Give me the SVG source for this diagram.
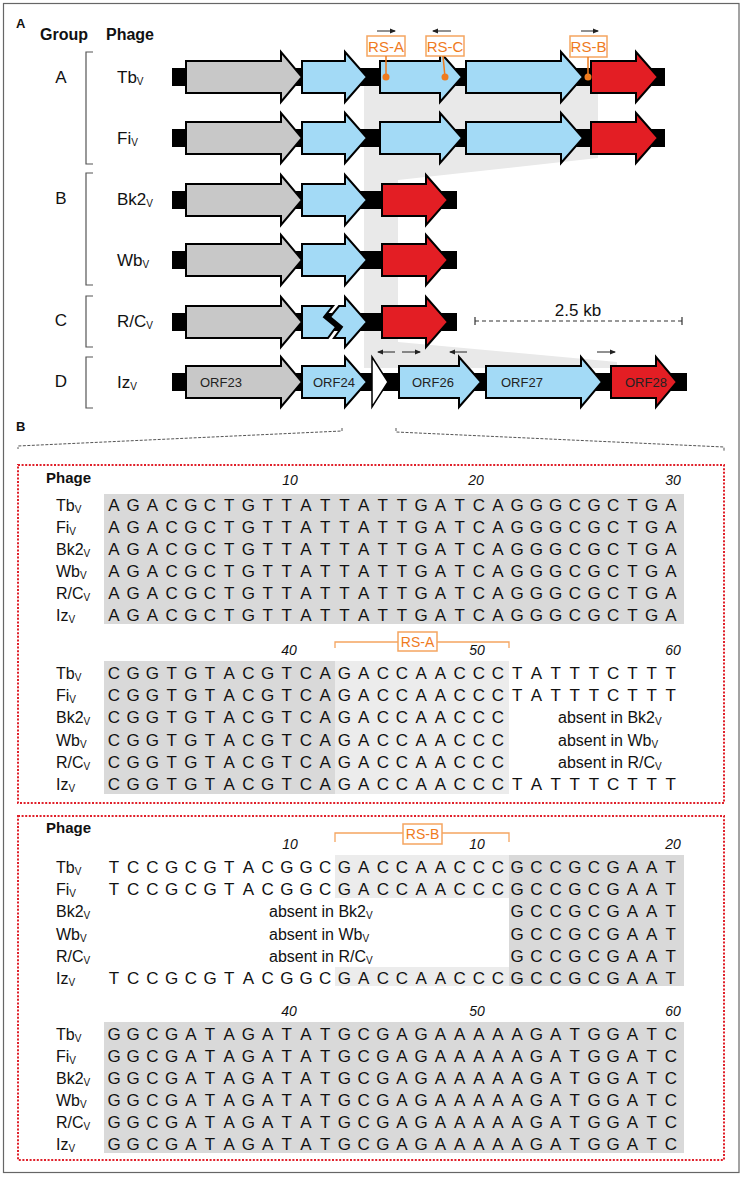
<svg xmlns="http://www.w3.org/2000/svg" width="743" height="1177" viewBox="0 0 743 1177">
<style>
text{font-family:"Liberation Sans",Arial,Helvetica,sans-serif;fill:#111}
.hd{font-weight:bold;font-size:16px}
.pl{font-weight:bold;font-size:13px}
.grp{font-size:17px;text-anchor:middle}
.ph{font-size:17px}
.phb{font-size:16px}
.sub{font-size:10px}
.orf{font-size:13px;fill:#222}
.seq{font-size:17px;text-anchor:middle}
.num{font-size:14px;font-style:italic;text-anchor:middle}
.abs{font-size:16px}
.rs{font-size:15px;fill:#ef7b1e;text-anchor:middle}
.rsb{font-size:14px;fill:#ef7b1e;text-anchor:middle}
.box{fill:#fff;stroke:#f5a560;stroke-width:1.5}
.br{fill:none;stroke:#555;stroke-width:1.2}
.bb{fill:#000}
.g{fill:#c8c8c8;stroke:#000;stroke-width:2}
.b{fill:#a3daf6;stroke:#000;stroke-width:2}
.r{fill:#e31e24;stroke:#000;stroke-width:2}
.w{fill:#fff;stroke:#000;stroke-width:1.5}
.sa{stroke:#222;stroke-width:1;marker-end:url(#ah)}
.dk{fill:#d9d9d9}
.lt{fill:#ececec}
.red{fill:none;stroke:#e0202a;stroke-width:2;stroke-dasharray:2 1.6}
.ol{fill:none;stroke:#f5a560;stroke-width:1.3}
</style>
<defs>
<marker id="ah" markerUnits="userSpaceOnUse" markerWidth="6" markerHeight="6" refX="5" refY="3" orient="auto"><path d="M0,0.5 L6,3 L0,5.5 Z" fill="#222"/></marker>
</defs>
<rect x="3.5" y="3.5" width="735.5" height="1169" fill="#fff" stroke="#666" stroke-width="1.2"/>

<!-- Panel A headers -->
<text class="pl" x="16" y="28">A</text>
<text class="hd" x="40" y="40">Group</text>
<text class="hd" x="106" y="40">Phage</text>

<g id="groups">
<path class="br" d="M93,52 H86 V164 H93"/>
<path class="br" d="M93,173 H86 V285 H93"/>
<path class="br" d="M93,296 H86 V347 H93"/>
<path class="br" d="M93,357 H86 V408 H93"/>
<text class="grp" x="61" y="83">A</text>
<text class="grp" x="61" y="204">B</text>
<text class="grp" x="61" y="326">C</text>
<text class="grp" x="61" y="387">D</text>
</g>

<!-- homology shading -->
<polygon id="shade" points="364,86 598,86 598,158 398,180 398,342 617,362 617,368 364,368" fill="#e9e9e9"/>

<g id="row-Tb">
<text class="ph" x="117" y="83">Tb<tspan class="sub" dy="2">V</tspan></text>
<rect class="bb" x="172" y="68" width="493" height="18"/>
<path class="g" d="M186,61 H281 V52 L302,77 L281,102 V93 H186 Z"/>
<path class="b" d="M302,61 H345 V52 L367,77 L345,102 V93 H302 Z"/>
<path class="b" d="M380,61 H440 V52 L462,77 L440,102 V93 H380 Z"/>
<path class="b" d="M466,61 H561 V52 L583,77 L561,102 V93 H466 Z"/>
<path class="r" d="M591,61 H636 V52 L658,77 L636,102 V93 H591 Z"/>
</g>
<g id="row-Fi">
<text class="ph" x="117" y="144">Fi<tspan class="sub" dy="2">V</tspan></text>
<rect class="bb" x="172" y="129" width="493" height="18"/>
<path class="g" d="M186,122 H281 V113 L302,138 L281,163 V154 H186 Z"/>
<path class="b" d="M302,122 H345 V113 L367,138 L345,163 V154 H302 Z"/>
<path class="b" d="M380,122 H440 V113 L462,138 L440,163 V154 H380 Z"/>
<path class="b" d="M466,122 H561 V113 L583,138 L561,163 V154 H466 Z"/>
<path class="r" d="M591,122 H636 V113 L658,138 L636,163 V154 H591 Z"/>
</g>
<g id="row-Bk2">
<text class="ph" x="117" y="205">Bk2<tspan class="sub" dy="2">V</tspan></text>
<rect class="bb" x="172" y="191" width="285" height="18"/>
<path class="g" d="M186,184 H281 V175 L302,200 L281,225 V216 H186 Z"/>
<path class="b" d="M302,184 H345 V175 L367,200 L345,225 V216 H302 Z"/>
<path class="r" d="M382,184 H426 V175 L448,200 L426,225 V216 H382 Z"/>
</g>
<g id="row-Wb">
<text class="ph" x="117" y="266">Wb<tspan class="sub" dy="2">V</tspan></text>
<rect class="bb" x="172" y="251" width="285" height="18"/>
<path class="g" d="M186,244 H281 V235 L302,260 L281,285 V276 H186 Z"/>
<path class="b" d="M302,244 H345 V235 L367,260 L345,285 V276 H302 Z"/>
<path class="r" d="M382,244 H426 V235 L448,260 L426,285 V276 H382 Z"/>
</g>
<g id="row-RC">
<text class="ph" x="117" y="327">R/C<tspan class="sub" dy="2">V</tspan></text>
<rect class="bb" x="172" y="313" width="285" height="18"/>
<path class="g" d="M186,306 H281 V297 L302,322 L281,347 V338 H186 Z"/>
<path class="b" d="M302,306 H333 L324,317 L336,327 L328,338 H302 Z"/>
<path class="b" d="M339,306 H345 V297 L367,322 L345,347 V338 H334 L342,327 L330,317 Z"/>
<path class="r" d="M382,306 H426 V297 L448,322 L426,347 V338 H382 Z"/>
</g>
<g id="row-Iz">
<text class="ph" x="117" y="388">Iz<tspan class="sub" dy="2">V</tspan></text>
<rect class="bb" x="172" y="373" width="515" height="18"/>
<path class="g" d="M186,366 H281 V357 L302,382 L281,407 V398 H186 Z"/>
<text class="orf" x="200" y="387">ORF23</text>
<path class="b" d="M302,366 H345 V357 L367,382 L345,407 V398 H302 Z"/>
<text class="orf" x="313" y="387">ORF24</text>
<path class="w" d="M372,357 L388,382 L372,407 Z"/>
<path class="b" d="M399,366 H459 V357 L481,382 L459,407 V398 H399 Z"/>
<text class="orf" x="412" y="387">ORF26</text>
<path class="b" d="M486,366 H581 V357 L602,382 L581,407 V398 H486 Z"/>
<text class="orf" x="501" y="387">ORF27</text>
<path class="r" d="M611,366 H656 V357 L677,382 L656,407 V398 H611 Z"/>
<text class="orf" x="625" y="387">ORF28</text>
</g>

<g id="scale">
<text x="578" y="316" style="font-size:17px;text-anchor:middle">2.5 kb</text>
<path d="M475,321 H682" stroke="#333" stroke-width="1.2" stroke-dasharray="4 3" fill="none"/>
<path d="M475,317 V325 M682,317 V325" stroke="#333" stroke-width="1.2"/>
</g>

<g id="rs-labels">
<rect class="box" x="367" y="36" width="38" height="20"/>
<text class="rs" x="386" y="52">RS-A</text>
<rect class="box" x="426" y="36" width="38" height="20"/>
<text class="rs" x="445" y="52">RS-C</text>
<rect class="box" x="570" y="36" width="37" height="21"/>
<text class="rs" x="588.5" y="52">RS-B</text>
</g>

<g id="connectors">
<path d="M386,56 V77 M443,56 L445,77 M588,57 V77" stroke="#ef7b1e" stroke-width="1.5" fill="none"/>
<circle cx="386" cy="77" r="3.5" fill="#ef7b1e"/>
<circle cx="445" cy="77" r="3.5" fill="#ef7b1e"/>
<circle cx="588" cy="77" r="3.5" fill="#ef7b1e"/>
<line class="sa" x1="377" y1="31" x2="395" y2="31"/>
<line class="sa" x1="451" y1="31" x2="433" y2="31"/>
<line class="sa" x1="581" y1="31" x2="598" y2="31"/>
<line class="sa" x1="395" y1="352" x2="378" y2="352"/>
<line class="sa" x1="402" y1="352" x2="420" y2="352"/>
<line class="sa" x1="467" y1="352" x2="450" y2="352"/>
<line class="sa" x1="597" y1="352" x2="615" y2="352"/>
<path d="M342,428 V431 L18,446 V449" fill="none" stroke="#555" stroke-width="1" stroke-dasharray="3 1.5"/>
<path d="M396,428 V432 L724,447 V451" fill="none" stroke="#555" stroke-width="1" stroke-dasharray="3 1.5"/>
</g>

<!-- Panel B -->
<text class="pl" x="16" y="431">B</text>

<g id="block1">
<rect class="red" x="18" y="465" width="706" height="338"/>
<text class="hd" style="font-size:15px" x="46" y="483">Phage</text>
<text class="num" x="290" y="485">10</text>
<text class="num" x="476" y="485">20</text>
<text class="num" x="673" y="485">30</text>
<rect class="dk" x="104" y="494" width="580" height="130"/>
<text class="phb" x="56" y="511">Tb<tspan class="sub" dy="2">V</tspan></text>
<text class="phb" x="56" y="533">Fi<tspan class="sub" dy="2">V</tspan></text>
<text class="phb" x="56" y="555">Bk2<tspan class="sub" dy="2">V</tspan></text>
<text class="phb" x="56" y="577">Wb<tspan class="sub" dy="2">V</tspan></text>
<text class="phb" x="56" y="599">R/C<tspan class="sub" dy="2">V</tspan></text>
<text class="phb" x="56" y="621">Iz<tspan class="sub" dy="2">V</tspan></text>
<text class="seq" y="511" x="114 133.2 152.4 171.6 190.8 210 229.2 248.4 267.6 286.8 306 325.2 344.4 363.6 382.8 402 421.2 440.4 459.6 478.8 498 517.2 536.4 555.6 574.8 594 613.2 632.4 651.6 670.8">AGACGCTGTTATTATTGATCAGGGCGCTGA</text>
<text class="seq" y="533" x="114 133.2 152.4 171.6 190.8 210 229.2 248.4 267.6 286.8 306 325.2 344.4 363.6 382.8 402 421.2 440.4 459.6 478.8 498 517.2 536.4 555.6 574.8 594 613.2 632.4 651.6 670.8">AGACGCTGTTATTATTGATCAGGGCGCTGA</text>
<text class="seq" y="555" x="114 133.2 152.4 171.6 190.8 210 229.2 248.4 267.6 286.8 306 325.2 344.4 363.6 382.8 402 421.2 440.4 459.6 478.8 498 517.2 536.4 555.6 574.8 594 613.2 632.4 651.6 670.8">AGACGCTGTTATTATTGATCAGGGCGCTGA</text>
<text class="seq" y="577" x="114 133.2 152.4 171.6 190.8 210 229.2 248.4 267.6 286.8 306 325.2 344.4 363.6 382.8 402 421.2 440.4 459.6 478.8 498 517.2 536.4 555.6 574.8 594 613.2 632.4 651.6 670.8">AGACGCTGTTATTATTGATCAGGGCGCTGA</text>
<text class="seq" y="599" x="114 133.2 152.4 171.6 190.8 210 229.2 248.4 267.6 286.8 306 325.2 344.4 363.6 382.8 402 421.2 440.4 459.6 478.8 498 517.2 536.4 555.6 574.8 594 613.2 632.4 651.6 670.8">AGACGCTGTTATTATTGATCAGGGCGCTGA</text>
<text class="seq" y="621" x="114 133.2 152.4 171.6 190.8 210 229.2 248.4 267.6 286.8 306 325.2 344.4 363.6 382.8 402 421.2 440.4 459.6 478.8 498 517.2 536.4 555.6 574.8 594 613.2 632.4 651.6 670.8">AGACGCTGTTATTATTGATCAGGGCGCTGA</text>
</g>

<g id="block2">
<path class="ol" d="M335,648 V642 H509 V648"/>
<rect class="box" x="398" y="632" width="39" height="19"/>
<text class="rsb" x="417.5" y="647">RS-A</text>
<text class="num" x="289" y="655">40</text>
<text class="num" x="477" y="655">50</text>
<text class="num" x="673" y="655">60</text>
<rect class="dk" x="104" y="661" width="231" height="133"/>
<rect class="lt" x="335" y="661" width="174" height="133"/>
<text class="phb" x="56" y="679">Tb<tspan class="sub" dy="2">V</tspan></text>
<text class="phb" x="56" y="701">Fi<tspan class="sub" dy="2">V</tspan></text>
<text class="phb" x="56" y="723">Bk2<tspan class="sub" dy="2">V</tspan></text>
<text class="phb" x="56" y="746">Wb<tspan class="sub" dy="2">V</tspan></text>
<text class="phb" x="56" y="768">R/C<tspan class="sub" dy="2">V</tspan></text>
<text class="phb" x="56" y="790">Iz<tspan class="sub" dy="2">V</tspan></text>
<text class="seq" y="679" x="114 133.2 152.4 171.6 190.8 210 229.2 248.4 267.6 286.8 306 325.2 344.4 363.6 382.8 402 421.2 440.4 459.6 478.8 498 517.2 536.4 555.6 574.8 594 613.2 632.4 651.6 670.8">CGGTGTACGTCAGACCAACCCTATTTCTTT</text>
<text class="seq" y="701" x="114 133.2 152.4 171.6 190.8 210 229.2 248.4 267.6 286.8 306 325.2 344.4 363.6 382.8 402 421.2 440.4 459.6 478.8 498 517.2 536.4 555.6 574.8 594 613.2 632.4 651.6 670.8">CGGTGTACGTCAGACCAACCCTATTTCTTT</text>
<text class="seq" y="723" x="114 133.2 152.4 171.6 190.8 210 229.2 248.4 267.6 286.8 306 325.2 344.4 363.6 382.8 402 421.2 440.4 459.6 478.8 498">CGGTGTACGTCAGACCAACCC</text>
<text class="seq" y="746" x="114 133.2 152.4 171.6 190.8 210 229.2 248.4 267.6 286.8 306 325.2 344.4 363.6 382.8 402 421.2 440.4 459.6 478.8 498">CGGTGTACGTCAGACCAACCC</text>
<text class="seq" y="768" x="114 133.2 152.4 171.6 190.8 210 229.2 248.4 267.6 286.8 306 325.2 344.4 363.6 382.8 402 421.2 440.4 459.6 478.8 498">CGGTGTACGTCAGACCAACCC</text>
<text class="seq" y="790" x="114 133.2 152.4 171.6 190.8 210 229.2 248.4 267.6 286.8 306 325.2 344.4 363.6 382.8 402 421.2 440.4 459.6 478.8 498 517.2 536.4 555.6 574.8 594 613.2 632.4 651.6 670.8">CGGTGTACGTCAGACCAACCCTATTTCTTT</text>
<text class="abs" x="558" y="723">absent in Bk2<tspan class="sub" dy="2">V</tspan></text>
<text class="abs" x="558" y="746">absent in Wb<tspan class="sub" dy="2">V</tspan></text>
<text class="abs" x="558" y="768">absent in R/C<tspan class="sub" dy="2">V</tspan></text>
</g>

<g id="block3">
<rect class="red" x="18" y="816" width="706" height="344"/>
<text class="hd" style="font-size:15px" x="46" y="833">Phage</text>
<path class="ol" d="M335,842 V833 H509 V842"/>
<rect class="box" x="403" y="824" width="39" height="20"/>
<text class="rsb" x="422.5" y="839">RS-B</text>
<text class="num" x="290" y="849">10</text>
<text class="num" x="477" y="849">10</text>
<text class="num" x="673" y="849">20</text>
<rect class="lt" x="335" y="855" width="174" height="43"/>
<rect class="lt" x="335" y="967" width="174" height="19"/>
<rect class="dk" x="509" y="855" width="175" height="131"/>
<text class="phb" x="56" y="873">Tb<tspan class="sub" dy="2">V</tspan></text>
<text class="phb" x="56" y="895">Fi<tspan class="sub" dy="2">V</tspan></text>
<text class="phb" x="56" y="917">Bk2<tspan class="sub" dy="2">V</tspan></text>
<text class="phb" x="56" y="940">Wb<tspan class="sub" dy="2">V</tspan></text>
<text class="phb" x="56" y="962">R/C<tspan class="sub" dy="2">V</tspan></text>
<text class="phb" x="56" y="984">Iz<tspan class="sub" dy="2">V</tspan></text>
<text class="seq" y="873" x="114 133.2 152.4 171.6 190.8 210 229.2 248.4 267.6 286.8 306 325.2 344.4 363.6 382.8 402 421.2 440.4 459.6 478.8 498 517.2 536.4 555.6 574.8 594 613.2 632.4 651.6 670.8">TCCGCGTACGGCGACCAACCCGCCGCGAAT</text>
<text class="seq" y="895" x="114 133.2 152.4 171.6 190.8 210 229.2 248.4 267.6 286.8 306 325.2 344.4 363.6 382.8 402 421.2 440.4 459.6 478.8 498 517.2 536.4 555.6 574.8 594 613.2 632.4 651.6 670.8">TCCGCGTACGGCGACCAACCCGCCGCGAAT</text>
<text class="seq" y="917" x="517.2 536.4 555.6 574.8 594 613.2 632.4 651.6 670.8">GCCGCGAAT</text>
<text class="seq" y="940" x="517.2 536.4 555.6 574.8 594 613.2 632.4 651.6 670.8">GCCGCGAAT</text>
<text class="seq" y="962" x="517.2 536.4 555.6 574.8 594 613.2 632.4 651.6 670.8">GCCGCGAAT</text>
<text class="seq" y="984" x="114 133.2 152.4 171.6 190.8 210 229.2 248.4 267.6 286.8 306 325.2 344.4 363.6 382.8 402 421.2 440.4 459.6 478.8 498 517.2 536.4 555.6 574.8 594 613.2 632.4 651.6 670.8">TCCGCGTACGGCGACCAACCCGCCGCGAAT</text>
<text class="abs" x="269" y="917">absent in Bk2<tspan class="sub" dy="2">V</tspan></text>
<text class="abs" x="269" y="940">absent in Wb<tspan class="sub" dy="2">V</tspan></text>
<text class="abs" x="269" y="962">absent in R/C<tspan class="sub" dy="2">V</tspan></text>
</g>

<g id="block4">
<text class="num" x="289" y="1016">40</text>
<text class="num" x="477" y="1016">50</text>
<text class="num" x="673" y="1016">60</text>
<rect class="dk" x="104" y="1022" width="580" height="131"/>
<text class="phb" x="56" y="1040">Tb<tspan class="sub" dy="2">V</tspan></text>
<text class="phb" x="56" y="1062">Fi<tspan class="sub" dy="2">V</tspan></text>
<text class="phb" x="56" y="1084">Bk2<tspan class="sub" dy="2">V</tspan></text>
<text class="phb" x="56" y="1106">Wb<tspan class="sub" dy="2">V</tspan></text>
<text class="phb" x="56" y="1128">R/C<tspan class="sub" dy="2">V</tspan></text>
<text class="phb" x="56" y="1150">Iz<tspan class="sub" dy="2">V</tspan></text>
<text class="seq" y="1040" x="114 133.2 152.4 171.6 190.8 210 229.2 248.4 267.6 286.8 306 325.2 344.4 363.6 382.8 402 421.2 440.4 459.6 478.8 498 517.2 536.4 555.6 574.8 594 613.2 632.4 651.6 670.8">GGCGATAGATATGCGAGAAAAAGATGGATC</text>
<text class="seq" y="1062" x="114 133.2 152.4 171.6 190.8 210 229.2 248.4 267.6 286.8 306 325.2 344.4 363.6 382.8 402 421.2 440.4 459.6 478.8 498 517.2 536.4 555.6 574.8 594 613.2 632.4 651.6 670.8">GGCGATAGATATGCGAGAAAAAGATGGATC</text>
<text class="seq" y="1084" x="114 133.2 152.4 171.6 190.8 210 229.2 248.4 267.6 286.8 306 325.2 344.4 363.6 382.8 402 421.2 440.4 459.6 478.8 498 517.2 536.4 555.6 574.8 594 613.2 632.4 651.6 670.8">GGCGATAGATATGCGAGAAAAAGATGGATC</text>
<text class="seq" y="1106" x="114 133.2 152.4 171.6 190.8 210 229.2 248.4 267.6 286.8 306 325.2 344.4 363.6 382.8 402 421.2 440.4 459.6 478.8 498 517.2 536.4 555.6 574.8 594 613.2 632.4 651.6 670.8">GGCGATAGATATGCGAGAAAAAGATGGATC</text>
<text class="seq" y="1128" x="114 133.2 152.4 171.6 190.8 210 229.2 248.4 267.6 286.8 306 325.2 344.4 363.6 382.8 402 421.2 440.4 459.6 478.8 498 517.2 536.4 555.6 574.8 594 613.2 632.4 651.6 670.8">GGCGATAGATATGCGAGAAAAAGATGGATC</text>
<text class="seq" y="1150" x="114 133.2 152.4 171.6 190.8 210 229.2 248.4 267.6 286.8 306 325.2 344.4 363.6 382.8 402 421.2 440.4 459.6 478.8 498 517.2 536.4 555.6 574.8 594 613.2 632.4 651.6 670.8">GGCGATAGATATGCGAGAAAAAGATGGATC</text>
</g>
</svg>
